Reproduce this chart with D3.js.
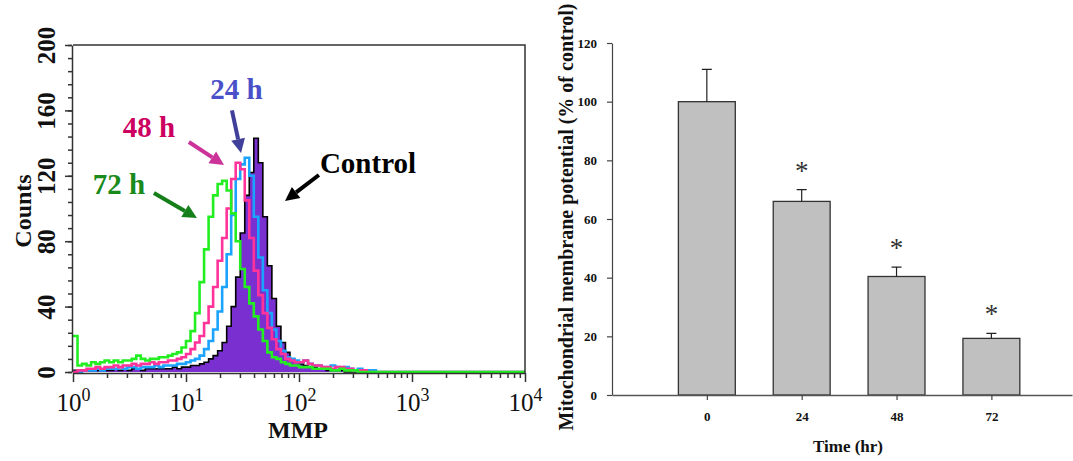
<!DOCTYPE html>
<html>
<head>
<meta charset="utf-8">
<script src="https://cdn.jsdelivr.net/npm/d3@7"></script>
<style>
  body { margin: 0; background: #fff; }
  svg text { font-family: "Liberation Serif", "Times New Roman", serif; }
</style>
</head>
<body>
<div id="chart"></div>
<script>
// ---- histogram data (counts per log bin, bin width 0.04 decade starting at 10^0) ----
var binStep = 0.04;
var control = [1,1,1,1,1,1,2,1,1,2, 1,2,1,2,2,1,2,2,2,2, 2,2,3,2,3,3,4,4,5,6,
  8,10,13,18,28,40,58,85,108,122, 143,128,95,65,45,28,18,12,8,6,
  5,4,3,3,2,2,1,1,1,1, 0,0,0,0,0,0,0,0,0,0];
var h24 = [0,0,1,1,1,2,1,2,2,2, 3,2,3,3,2,3,3,3,4,3, 4,4,4,5,5,6,7,8,10,14,
  19,26,37,52,72,96,118,127,131,120, 95,70,50,36,26,19,13,9,8,7,
  6,7,5,4,4,3,3,4,3,2, 3,2,1,2,1,1,1,0,0,0];
var h48 = [0,1,1,2,2,3,2,3,3,4, 3,4,4,5,4,5,5,6,5,6, 6,7,7,8,9,11,14,18,22,30,
  40,52,68,82,100,118,128,124,105,82, 62,47,36,27,20,14,11,8,7,6,
  6,7,5,4,4,3,3,2,3,3, 2,2,1,1,1,0,0,0,0,0];
var h72 = [22,4,5,4,6,5,6,7,6,7, 6,7,7,8,10,8,7,8,8,9, 9,10,11,12,15,19,25,36,55,75,
  95,108,115,117,111,97,80,63,52,42, 34,26,19,12,9,8,6,5,4,4,
  3,3,3,2,2,2,2,1,1,2, 1,1,1,0,0,0,0,0,0,0];
var countTicks = [0, 40, 80, 120, 160, 200];
var mmpTicks = [1, 10, 100, 1000, 10000];

// annotations: label position and arrow in data units (MMP, count)
var notes = [
  {text: "24 h", lx: 28, ly: 167, from: [25.5, 160], to: [30.7, 134], color: "#4a50c8", arrow: "#40409a"},
  {text: "48 h", lx: 4.7, ly: 143.7, from: [10.6, 140.7], to: [21.7, 126.6], color: "#cc0060", arrow: "#cc3399"},
  {text: "72 h", lx: 2.55, ly: 108.9, from: [5.2, 109.5], to: [12.5, 94.2], color: "#1a8a1a", arrow: "#15801a"},
  {text: "Control", lx: 408, ly: 121.7, from: [150, 120.5], to: [75.2, 104.6], color: "#000", arrow: "#000"}
];

// ---- bar chart data ----
var times = ["0", "24", "48", "72"];
var mmpMean = [100, 66, 40.4, 19.3];
var mmpErr = [11, 4, 3.2, 1.7];
var significant = [false, true, true, true];
var percentTicks = [0, 20, 40, 60, 80, 100, 120];

var svgWidth = 1073;
var svgHeight = 461;

var svg = d3.select("#chart")
  .append("svg")
  .attr("width", svgWidth)
  .attr("height", svgHeight);

svg.append("rect").attr("width", svgWidth).attr("height", svgHeight).attr("fill", "#fff");

// ================= left panel : histogram =================
var left = {x0: 73, x1: 525, y0: 372, y1: 45};

var xL = d3.scaleLog().domain([1, 10000]).range([left.x0, left.x1]);
var yL = d3.scaleLinear().domain([0, 200]).range([left.y0, left.y1]);

svg.append("clipPath").attr("id", "plotClip")
  .append("rect")
  .attr("x", left.x0).attr("y", left.y1)
  .attr("width", left.x1 - left.x0).attr("height", left.y0 - left.y1 + 1);

function toSteps(counts) {
  var pts = counts.map(function(c, i) { return [Math.pow(10, i * binStep), c]; });
  pts.push([Math.pow(10, counts.length * binStep), 0]);
  pts.push([10000, 0]);
  return pts;
}

var stepLine = d3.line()
  .x(d => xL(d[0]))
  .y(d => yL(d[1]))
  .curve(d3.curveStepAfter);

var stepArea = d3.area()
  .x(d => xL(d[0]))
  .y0(yL(0))
  .y1(d => yL(d[1]))
  .curve(d3.curveStepAfter);

var plot = svg.append("g").attr("clip-path", "url(#plotClip)");

plot.append("path")
  .attr("d", stepArea(toSteps(control)))
  .attr("fill", "#7a30d0");

plot.append("path")
  .attr("d", stepLine(toSteps(control)))
  .attr("fill", "none").attr("stroke", "#000").attr("stroke-width", 1.6);

var series = [
  {counts: h24, color: "#1aa3ff"},
  {counts: h48, color: "#ff3399"},
  {counts: h72, color: "#22ee22"}
];

series.forEach(function(s) {
  plot.append("path")
    .attr("d", stepLine(toSteps(s.counts)))
    .attr("fill", "none")
    .attr("stroke", s.color)
    .attr("stroke-width", 2.6);
});

// frame (top and right)
svg.append("path")
  .attr("d", `M${left.x0},${left.y1}H${left.x1}V${left.y0 + 1}`)
  .attr("fill", "none").attr("stroke", "#333").attr("stroke-width", 1.5);

// y axis
var yMinor = d3.range(0, 201, 8);
svg.append("g")
  .attr("transform", `translate(${left.x0 - 1},0)`)
  .call(d3.axisLeft(yL).tickValues(yMinor).tickSize(4).tickFormat(""))
  .call(g => g.select(".domain").remove())
  .selectAll("line").attr("stroke", "#333").attr("stroke-width", 1.5);

var yAxisL = svg.append("g")
  .attr("transform", `translate(${left.x0 - 1},0)`)
  .call(d3.axisLeft(yL).tickValues(countTicks).tickSize(7).tickSizeOuter(0));
yAxisL.select(".domain").attr("stroke", "#333").attr("stroke-width", 1.5);
yAxisL.selectAll("line").attr("stroke", "#333").attr("stroke-width", 1.5);
yAxisL.selectAll("text")
  .attr("transform", "rotate(-90)")
  .attr("x", 0).attr("y", -17).attr("dy", 0)
  .attr("text-anchor", "middle")
  .attr("font-size", 25).attr("font-weight", "bold")
  .attr("fill", "#111");

// x axis
var xMinor = [];
mmpTicks.slice(0, -1).forEach(function(base) {
  for (var k = 2; k <= 9; k++) xMinor.push(base * k);
});
svg.append("g")
  .attr("transform", `translate(0,${left.y0 + 1})`)
  .call(d3.axisBottom(xL).tickValues(xMinor).tickSize(5).tickFormat(""))
  .call(g => g.select(".domain").remove())
  .selectAll("line").attr("stroke", "#333").attr("stroke-width", 1.5);

var xAxisL = svg.append("g")
  .attr("transform", `translate(0,${left.y0 + 1})`)
  .call(d3.axisBottom(xL).tickValues(mmpTicks).tickSize(9).tickSizeOuter(0));
xAxisL.select(".domain").attr("stroke", "#333").attr("stroke-width", 1.5);
xAxisL.selectAll("line").attr("stroke", "#333").attr("stroke-width", 1.5);
xAxisL.selectAll("text").each(function(d) {
  var t = d3.select(this);
  t.text("").attr("y", 38).attr("dy", 0)
    .attr("font-size", 25).attr("fill", "#111");
  t.append("tspan").text("10");
  t.append("tspan").attr("dy", -10).attr("font-size", 18).text(Math.round(Math.log10(d)));
});

// axis titles
svg.append("text")
  .attr("x", 298).attr("y", 438)
  .attr("text-anchor", "middle")
  .attr("font-size", 24).attr("font-weight", "bold").attr("fill", "#111")
  .text("MMP");

svg.append("text")
  .attr("transform", "translate(31,211) rotate(-90)")
  .attr("text-anchor", "middle")
  .attr("font-size", 24).attr("font-weight", "bold").attr("fill", "#111")
  .text("Counts");

// annotations
notes.forEach(function(n) {
  svg.append("text")
    .attr("x", xL(n.lx)).attr("y", yL(n.ly))
    .attr("text-anchor", "middle")
    .attr("font-size", 29).attr("font-weight", "bold")
    .attr("fill", n.color)
    .text(n.text);

  var x1 = xL(n.from[0]), y1 = yL(n.from[1]);
  var x2 = xL(n.to[0]), y2 = yL(n.to[1]);
  var ang = Math.atan2(y2 - y1, x2 - x1);
  var headLen = 14, headW = 7;
  var bx = x2 - headLen * Math.cos(ang), by = y2 - headLen * Math.sin(ang);
  svg.append("line")
    .attr("x1", x1).attr("y1", y1).attr("x2", bx).attr("y2", by)
    .attr("stroke", n.arrow).attr("stroke-width", 4);
  svg.append("polygon")
    .attr("points", [
      [x2, y2],
      [bx + headW * Math.sin(ang), by - headW * Math.cos(ang)],
      [bx - headW * Math.sin(ang), by + headW * Math.cos(ang)]
    ].map(p => p.join(",")).join(" "))
    .attr("fill", n.arrow);
});

// ================= right panel : bar chart =================
var right = {x0: 612, x1: 1072, y0: 395, y1: 43};

var xR = d3.scaleLinear().domain([-1, 3.85]).range([right.x0, right.x1]);
var yR = d3.scaleLinear().domain([0, 120]).range([right.y0, right.y1]);
var step = xR(1) - xR(0);
var barW = step * 0.6;

var barG = svg.append("g");

barG.selectAll(".bar")
  .data(mmpMean)
  .enter()
  .append("rect")
  .attr("class", "bar")
  .attr("x", (d, i) => xR(i) - barW / 2)
  .attr("y", d => yR(d))
  .attr("width", barW)
  .attr("height", d => yR(0) - yR(d))
  .attr("fill", "#c0c0c0")
  .attr("stroke", "#333")
  .attr("stroke-width", 1.3);

// error bars (upper only)
barG.selectAll(".err")
  .data(mmpMean)
  .enter()
  .append("path")
  .attr("class", "err")
  .attr("d", (d, i) => `M${xR(i)},${yR(d)}V${yR(d + mmpErr[i])}M${xR(i) - 5},${yR(d + mmpErr[i])}H${xR(i) + 5}`)
  .attr("fill", "none")
  .attr("stroke", "#222")
  .attr("stroke-width", 1.2);

// significance stars
barG.selectAll(".star")
  .data(mmpMean)
  .enter()
  .filter((d, i) => significant[i])
  .append("text")
  .attr("class", "star")
  .attr("x", d => xR(mmpMean.indexOf(d)))
  .attr("y", d => yR(d + mmpErr[mmpMean.indexOf(d)] + 7.5) + 12)
  .attr("text-anchor", "middle")
  .attr("font-size", 27)
  .attr("fill", "#333")
  .text("*");

var yAxisR = svg.append("g")
  .attr("transform", `translate(${right.x0},0)`)
  .call(d3.axisLeft(yR).tickValues(percentTicks).tickSize(5).tickSizeOuter(0).tickPadding(10));
yAxisR.select(".domain").attr("stroke", "#444").attr("stroke-width", 1.2);
yAxisR.selectAll("line").attr("stroke", "#444").attr("stroke-width", 1.2);
yAxisR.selectAll("text").attr("font-size", 13).attr("font-weight", "bold").attr("fill", "#111");

var xAxisR = svg.append("g")
  .attr("transform", `translate(0,${right.y0})`)
  .call(d3.axisBottom(xR).tickValues([0, 1, 2, 3]).tickFormat(i => times[i]).tickSize(5).tickSizeOuter(0).tickPadding(12));
xAxisR.select(".domain").attr("stroke", "#555").attr("stroke-width", 1.5);
xAxisR.selectAll("line").attr("stroke", "#444").attr("stroke-width", 1.2);
xAxisR.selectAll("text").attr("font-size", 13).attr("font-weight", "bold").attr("fill", "#111");

svg.append("text")
  .attr("x", 848).attr("y", 452)
  .attr("text-anchor", "middle")
  .attr("font-size", 17).attr("font-weight", "bold").attr("fill", "#111")
  .text("Time (hr)");

svg.append("text")
  .attr("transform", "translate(573,217) rotate(-90)")
  .attr("text-anchor", "middle")
  .attr("font-size", 20).attr("font-weight", "bold").attr("fill", "#111")
  .text("Mitochondrial membrane potential (% of control)");
</script>
</body>
</html>
